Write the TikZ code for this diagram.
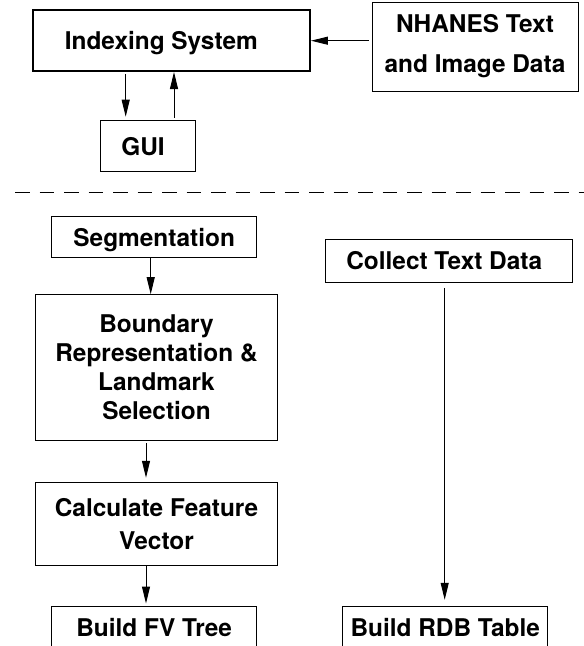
\documentclass[tikz,border=0pt]{standalone}
\usepackage{fontspec}
\setmainfont{TeX Gyre Heros}
\usetikzlibrary{arrows.meta}
\begin{document}
\begin{tikzpicture}[x=1pt,y=-1pt,
  box/.style={draw=black, line width=1pt, inner sep=0pt, align=center,
    font=\fontsize{24.4}{29}\bfseries\selectfont},
  flat/.style={text height=17.6pt, text depth=0pt},
  arr/.style={draw=black, line width=1pt, -{Triangle[length=17pt,width=8pt]}},
  sep/.style={draw=black, line width=1.6pt, dash pattern=on 14.5pt off 10pt}]
\clip (0,0) rectangle (584,646);
% top part
\node[box, flat, line width=2pt, minimum width=277.3pt, minimum height=61pt] (idx) at (171.3,40.5) {Indexing System\hspace*{20pt}};
\node[box, minimum width=206pt, minimum height=89pt, font=\fontsize{24.4}{40}\bfseries\selectfont] (nh) at (475,46.5) {NHANES Text\\and Image Data};
\node[box, flat, minimum width=94.3pt, minimum height=51pt] (gui) at (148,146.2) {GUI\hspace*{10pt}};
% separator
\coordinate (sepL) at (15,192.3);
\coordinate (sepR) at (584,192.3);
\draw[sep] (sepL) -- (sepR);
% left column
\node[box, flat, minimum width=205pt, minimum height=41pt] (seg) at (154.2,237.2) {Segmentation};
\node[box, minimum width=241.6pt, minimum height=145.3pt] (bound) at (156.5,367.35) {Boundary\\Representation \&\\Landmark\\Selection};
\node[box, minimum width=241.6pt, minimum height=82.3pt, font=\fontsize{24.4}{33}\bfseries\selectfont] (calc) at (156.5,523.85) {Calculate Feature\\Vector};
\node[box, minimum width=205pt, minimum height=44pt] (fv) at (154.2,628) {Build FV Tree};
% right column
\node[box, minimum width=246.7pt, minimum height=43pt] (col) at (449.3,260.8) {Collect Text Data\hspace*{10pt}};
\node[box, minimum width=205pt, minimum height=44pt] (rdb) at (445.2,628) {Build RDB Table};
% connectors
\draw[arr, shorten <=3pt] ([yshift=5.8pt]nh.west) -- ([yshift=5.8pt]nh.west -| idx.east);
\draw[arr, shorten <=2pt, shorten >=3.5pt] ([xshift=-45.6pt]idx.south) -- ([xshift=-45.6pt]idx.south |- gui.north);
\draw[arr, shorten <=2.5pt] ([xshift=26pt]gui.north) -- ([xshift=26pt]gui.north |- idx.south);
\draw[arr] ([xshift=-3.5pt]seg.south) -- ([xshift=-3.5pt]seg.south |- bound.north);
\draw[arr, shorten <=2.7pt, shorten >=4.4pt] ([xshift=-10.5pt]bound.south) -- ([xshift=-10.5pt]bound.south |- calc.north);
\draw[arr, shorten >=2pt] ([xshift=-10.5pt]calc.south) -- ([xshift=-10.5pt]calc.south |- fv.north);
\draw[arr, shorten <=5pt, shorten >=5.7pt] ([xshift=-4.6pt]col.south) -- ([xshift=-4.6pt]col.south |- rdb.north);
\end{tikzpicture}
\end{document}
